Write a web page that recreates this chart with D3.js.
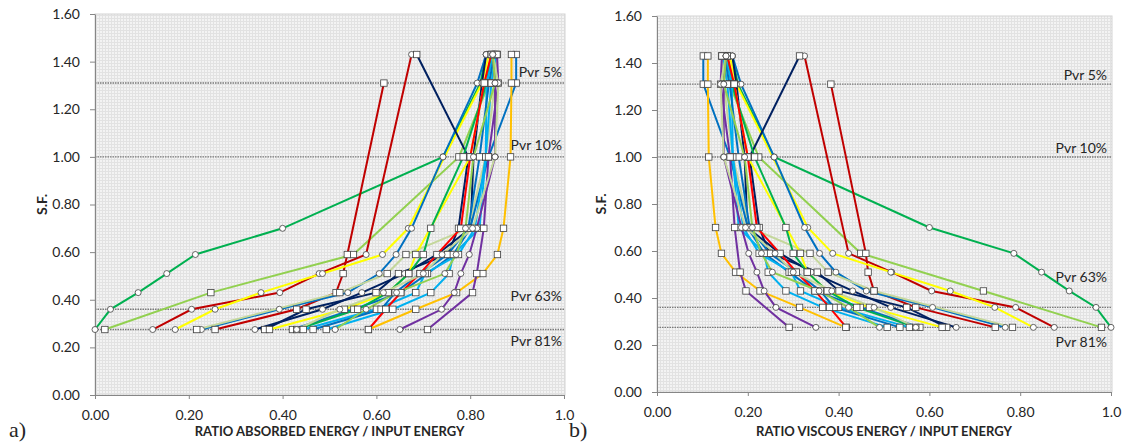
<!DOCTYPE html>
<html>
<head>
<meta charset="utf-8">
<script src="https://cdnjs.cloudflare.com/ajax/libs/d3/7.8.5/d3.min.js"></script>
<style>
body { margin: 0; background: #fff; }
text { font-family: Lato, "Open Sans", sans-serif; fill: #262626; }
</style>
</head>
<body>
<svg id="chart" width="1123" height="448"></svg>
<script>
// S.F. levels shared by every series (top to bottom)
var sfLevels = [1.43, 1.31, 1.00, 0.70, 0.59, 0.51, 0.43, 0.36, 0.275];

var seriesColors = ["#00b050", "#92d050", "#c00000", "#c00000", "#ffff00", "#0070c0", "#002060",
  "#002060", "#c4d79b", "#ffff00", "#0070c0", "#00b050", "#00b0f0", "#0070c0", "#00b0f0",
  "#ff0000", "#ffc000", "#7030a0", "#7030a0", "#c4d79b", "#92d050"];
var seriesMarkers = ["o", "s", "o", "s", "o", "o", "o", "s", "s", "s", "s", "s", "s", "s", "s",
  "s", "s", "s", "o", "o", "o"];

// ratio absorbed energy / input energy, one row per series (null = no point at that level)
var absorbed = [
  [0.834, 0.822, 0.742, 0.400, 0.214, 0.153, 0.092, 0.033, 0.000],
  [0.857, 0.840, 0.776, null, 0.551, null, 0.247, null, 0.021],
  [0.675, null, null, null, 0.578, 0.478, 0.394, 0.206, 0.123],
  [null, 0.616, null, null, 0.538, 0.529, 0.514, 0.430, 0.256],
  [0.840, 0.825, null, 0.668, 0.613, 0.485, 0.354, 0.256, 0.171],
  [0.834, 0.815, 0.742, 0.675, 0.642, 0.606, 0.539, 0.393, 0.227],
  [0.834, 0.825, 0.807, 0.801, 0.729, 0.660, 0.569, 0.485, 0.341],
  [0.686, null, 0.796, 0.775, 0.752, 0.647, 0.599, 0.450, 0.362],
  [0.857, 0.853, 0.833, 0.796, 0.663, 0.623, 0.522, null, 0.217],
  [0.845, 0.830, 0.800, null, 0.684, 0.669, 0.625, 0.532, 0.372],
  [0.898, 0.898, 0.839, 0.800, 0.764, 0.709, 0.652, 0.552, 0.421],
  [0.845, 0.835, 0.785, 0.716, 0.700, 0.669, 0.625, 0.560, 0.430],
  [0.850, 0.835, 0.833, 0.810, 0.775, 0.704, 0.684, 0.600, 0.444],
  [0.852, 0.840, 0.820, 0.796, 0.752, 0.693, 0.640, 0.610, 0.465],
  [0.855, 0.845, 0.833, 0.820, 0.764, 0.755, 0.716, 0.635, 0.493],
  [0.845, 0.830, 0.800, 0.780, 0.729, 0.693, 0.652, 0.620, 0.583],
  [0.888, 0.888, 0.886, 0.871, 0.858, 0.827, 0.771, 0.684, 0.583],
  [0.857, 0.860, 0.839, 0.829, null, 0.814, 0.805, null, 0.709],
  [0.848, 0.853, 0.853, 0.814, 0.798, 0.780, 0.766, 0.739, 0.650],
  [0.848, 0.860, 0.853, 0.805, 0.740, 0.700, 0.615, 0.522, 0.430],
  [0.848, 0.853, 0.807, 0.790, 0.770, 0.746, 0.643, 0.578, 0.512]
];

// ratio viscous energy / input energy, same series order
var viscous = [
  [0.166, 0.178, 0.258, 0.600, 0.786, 0.847, 0.908, 0.967, 1.000],
  [0.143, 0.160, 0.224, null, 0.449, null, 0.719, null, 0.979],
  [0.325, null, null, null, 0.422, 0.517, 0.605, 0.790, 0.875],
  [null, 0.383, null, null, 0.460, 0.465, 0.478, 0.570, 0.745],
  [0.160, 0.175, null, 0.332, 0.387, 0.515, 0.646, 0.744, 0.829],
  [0.166, 0.185, 0.258, 0.325, 0.358, 0.394, 0.461, 0.607, 0.767],
  [0.166, 0.175, 0.193, 0.199, 0.271, 0.340, 0.431, 0.515, 0.659],
  [0.314, null, 0.204, 0.225, 0.248, 0.353, 0.401, 0.550, 0.638],
  [0.143, 0.147, 0.167, 0.204, 0.337, 0.377, 0.478, null, 0.783],
  [0.155, 0.170, 0.200, null, 0.316, 0.331, 0.375, 0.468, 0.628],
  [0.102, 0.102, 0.161, 0.200, 0.236, 0.291, 0.348, 0.448, 0.579],
  [0.155, 0.165, 0.215, 0.284, 0.300, 0.331, 0.375, 0.440, 0.570],
  [0.150, 0.165, 0.167, 0.190, 0.225, 0.296, 0.316, 0.400, 0.556],
  [0.148, 0.160, 0.180, 0.204, 0.248, 0.307, 0.360, 0.390, 0.535],
  [0.145, 0.155, 0.167, 0.180, 0.236, 0.245, 0.284, 0.365, 0.507],
  [0.155, 0.170, 0.200, 0.220, 0.271, 0.307, 0.348, 0.380, 0.417],
  [0.112, 0.112, 0.114, 0.129, 0.142, 0.173, 0.227, 0.314, 0.416],
  [0.143, 0.140, 0.161, 0.171, null, 0.183, 0.196, null, 0.291],
  [0.152, 0.147, 0.147, 0.186, 0.202, 0.220, 0.236, 0.262, 0.350],
  [0.152, 0.140, 0.147, 0.195, 0.260, 0.300, 0.385, 0.478, 0.570],
  [0.152, 0.147, 0.193, 0.210, 0.230, 0.254, 0.357, 0.422, 0.490]
];

var xTicks = [0, 0.2, 0.4, 0.6, 0.8, 1.0];
var xTickLabels = ["0.00", "0.20", "0.40", "0.60", "0.80", "1.0"];
var yTicks = [0, 0.2, 0.4, 0.6, 0.8, 1.0, 1.2, 1.4, 1.6];
var pvrLevels = [1.31, 1.00, 0.36, 0.275];
var pvrLabels = ["Pvr 5%", "Pvr 10%", "Pvr 63%", "Pvr 81%"];

var panels = [
  { values: absorbed, x0: 95, x1: 564, y0: 14, y1: 395,
    title: "RATIO ABSORBED ENERGY / INPUT ENERGY", tag: "a)", tagX: 9, sfX: 47,
    pvrX: 562, pvrDy: [-6, -6.5, -8, 16] },
  { values: viscous, x0: 657, x1: 1111, y0: 16, y1: 392,
    title: "RATIO VISCOUS ENERGY / INPUT ENERGY", tag: "b)", tagX: 569, sfX: 606,
    pvrX: 1107, pvrDy: [-4, -4, -25, 20] }
];

var svg = d3.select("#chart");

var defs = svg.append("defs");
var pat = defs.append("pattern")
  .attr("id", "smallgrid")
  .attr("width", 3)
  .attr("height", 3)
  .attr("patternUnits", "userSpaceOnUse");
pat.append("rect").attr("width", 3).attr("height", 3).attr("fill", "#f3f3f3");
pat.append("path")
  .attr("d", "M0,0.5H3M0.5,0V3")
  .attr("stroke", "#e2e2e2")
  .attr("stroke-width", 1);

function drawPanel(p) {
  var x = d3.scaleLinear().domain([0, 1]).range([p.x0, p.x1]);
  var y = d3.scaleLinear().domain([0, 1.6]).range([p.y1, p.y0]);
  var g = svg.append("g");

  g.append("rect")
    .attr("x", p.x0)
    .attr("y", p.y0)
    .attr("width", p.x1 - p.x0 + 1)
    .attr("height", p.y1 - p.y0)
    .attr("fill", "url(#smallgrid)")
    .attr("stroke", "#d4d4d4");

  // Pvr reference lines
  g.selectAll(".pvr")
    .data(pvrLevels)
    .enter().append("line")
    .attr("x1", p.x0)
    .attr("x2", p.x1 + 1)
    .attr("y1", function(d) { return y(d); })
    .attr("y2", function(d) { return y(d); })
    .attr("stroke", "#7a7a7a")
    .attr("stroke-width", 1.4)
    .attr("stroke-dasharray", "1.5,1");

  g.selectAll(".pvrlabel")
    .data(pvrLevels)
    .enter().append("text")
    .text(function(d, i) { return pvrLabels[i]; })
    .attr("x", p.pvrX)
    .attr("y", function(d, i) { return y(d) + p.pvrDy[i]; })
    .attr("text-anchor", "end")
    .style("font-size", "14px");

  var yAxis = g.append("g")
    .attr("transform", "translate(" + p.x0 + ",0)")
    .call(d3.axisLeft(y).tickValues(yTicks).tickFormat(d3.format(".2f"))
      .tickSize(5).tickSizeOuter(0).tickPadding(10));
  var xAxis = g.append("g")
    .attr("transform", "translate(0," + p.y1 + ")")
    .call(d3.axisBottom(x).tickValues(xTicks)
      .tickFormat(function(d, i) { return xTickLabels[i]; })
      .tickSize(4).tickSizeOuter(0).tickPadding(11));
  [yAxis, xAxis].forEach(function(a) {
    a.select(".domain").attr("stroke", "#868686");
    a.selectAll(".tick line").attr("stroke", "#868686");
    a.selectAll(".tick text")
      .attr("fill", "#262626")
      .style("font-size", "14px")
      .style("font-family", "Lato, sans-serif");
  });

  var line = d3.line()
    .x(function(d) { return x(d.v); })
    .y(function(d) { return y(d.sf); });

  var series = p.values.map(function(row, i) {
    var pts = [];
    row.forEach(function(v, j) {
      if (v !== null) pts.push({ v: v, sf: sfLevels[j] });
    });
    return { color: seriesColors[i], marker: seriesMarkers[i], pts: pts };
  });

  g.selectAll(".series")
    .data(series)
    .enter().append("path")
    .attr("d", function(d) { return line(d.pts); })
    .attr("fill", "none")
    .attr("stroke", function(d) { return d.color; })
    .attr("stroke-width", 2);

  series.forEach(function(s) {
    if (s.marker === "o") {
      g.selectAll(null)
        .data(s.pts)
        .enter().append("circle")
        .attr("cx", function(d) { return x(d.v); })
        .attr("cy", function(d) { return y(d.sf); })
        .attr("r", 3)
        .attr("fill", "white")
        .attr("stroke", "#404040")
        .attr("stroke-width", 0.8);
    } else {
      g.selectAll(null)
        .data(s.pts)
        .enter().append("rect")
        .attr("x", function(d) { return x(d.v) - 3.2; })
        .attr("y", function(d) { return y(d.sf) - 3.2; })
        .attr("width", 6.4)
        .attr("height", 6.4)
        .attr("fill", "white")
        .attr("stroke", "#404040")
        .attr("stroke-width", 0.8);
    }
  });

  g.append("text")
    .text("S.F.")
    .attr("transform", "translate(" + p.sfX + "," + ((p.y0 + p.y1) / 2) + ") rotate(-90)")
    .attr("text-anchor", "middle")
    .style("font-size", "14px")
    .style("font-weight", "bold");

  g.append("text")
    .text(p.title)
    .attr("x", (p.x0 + p.x1) / 2)
    .attr("y", 436)
    .attr("text-anchor", "middle")
    .style("font-size", "13px")
    .style("font-weight", "bold");

  g.append("text")
    .text(p.tag)
    .attr("x", p.tagX)
    .attr("y", 437)
    .style("font-family", "'Liberation Serif', serif")
    .style("font-size", "22px");
}

panels.forEach(drawPanel);
</script>
</body>
</html>
